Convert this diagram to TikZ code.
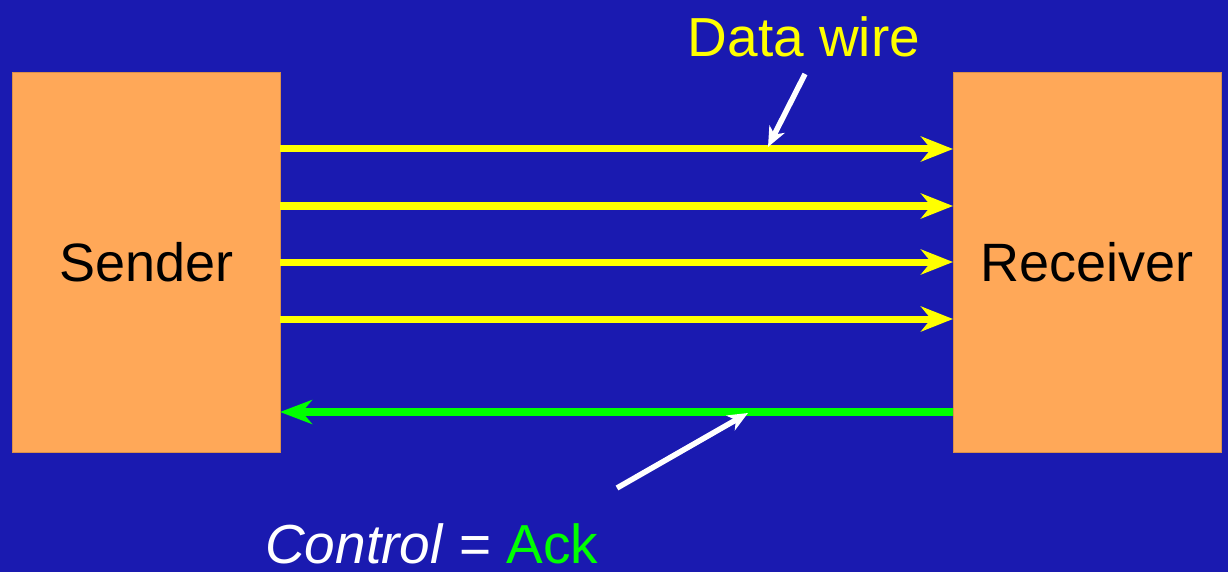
\documentclass[tikz,border=0pt]{standalone}
\usepackage{fontspec}
\setmainfont{Liberation Sans}
\usetikzlibrary{arrows.meta}
\definecolor{bgblue}{RGB}{26,26,176}
\definecolor{boxorange}{RGB}{255,168,88}
\definecolor{wireyellow}{RGB}{255,255,0}
\definecolor{ackgreen}{RGB}{0,255,0}
\tikzset{
  unitbox/.style={fill=boxorange, draw=boxorange!85!black, line width=0.8pt, minimum width=268pt, minimum height=380pt, inner sep=0pt, anchor=north west, font=\fontsize{54}{60}\selectfont},
  datawire/.style={draw=wireyellow, line width=7pt, -{Stealth[length=32pt,width=25pt,inset=10pt]}},
  ackwire/.style={draw=ackgreen, line width=8pt, -{Stealth[length=32pt,width=24pt,inset=10pt]}},
  pointer/.style={draw=white, line width=5.5pt, -{Stealth[length=20pt,width=17pt,inset=6pt]}},
  bigtext/.style={font=\fontsize{55}{60}\selectfont, inner sep=0pt}
}
\begin{document}
\begin{tikzpicture}[x=1pt,y=-1pt]
\fill[bgblue] (0,0) rectangle (1228,572);
\useasboundingbox (0,0) rectangle (1228,572);
\node[unitbox] (sender) at (12,72) {Sender};
\node[unitbox] (receiver) at (953,72) {Receiver};
\foreach \yy/\nm in {149/a,206/b,262/c,319/d}{
  \coordinate (s\nm) at (280,\yy);
  \coordinate (r\nm) at (953,\yy);
  \draw[datawire] (s\nm) -- (r\nm);
}
\coordinate (sack) at (280,412);
\coordinate (rack) at (953,412);
\draw[ackwire] (rack) -- (sack);
\node[bigtext, text=wireyellow, anchor=base] (dlabel) at (804,57) {Data wire};
\coordinate (dfrom) at (805,74);
\coordinate (dto) at (768,147);
\draw[pointer] (dfrom) -- (dto);
\node[bigtext, text=white, anchor=base west] (clabel) at (265,563) {\textit{Control} = \textcolor{ackgreen}{Ack}};
\coordinate (cfrom) at (617,488);
\coordinate (cto) at (748,413);
\draw[pointer] (cfrom) -- (cto);
\end{tikzpicture}
\end{document}
